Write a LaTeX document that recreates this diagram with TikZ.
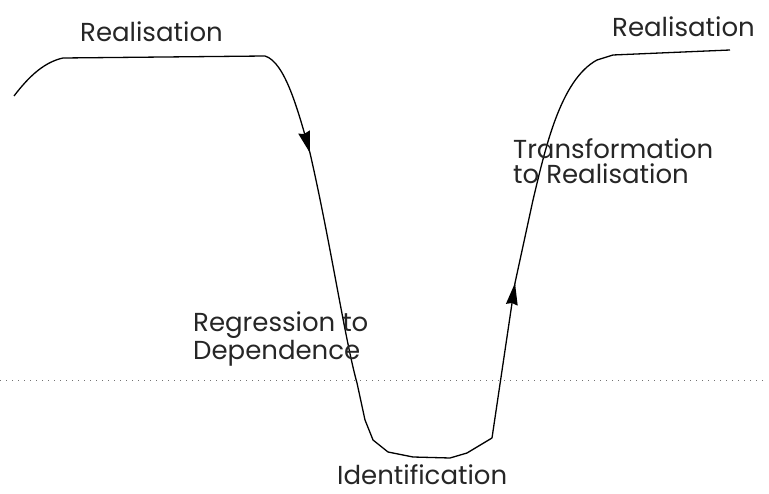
\documentclass[tikz,border=0pt]{standalone}
\usepackage{fontspec}
\setmainfont{Poppins}
\begin{document}
\begin{tikzpicture}[x=1pt,y=-1pt,
  lbl/.style={inner sep=0pt,font=\fontsize{26}{25}\selectfont,text=black!85},
  curve/.style={line width=1.3pt,line join=round},
  head/.style={fill=black,line join=miter}]
\useasboundingbox (0,0) rectangle (769,494);
% dotted baseline
\draw[black!55,line width=0.6pt,dash pattern=on 1pt off 5pt] (0,380) -- (763,380);
% coordinates
\coordinate (s) at (14,96);
\coordinate (a) at (63,58);
\coordinate (b) at (265,56);
\coordinate (c) at (310,153);
\coordinate (d) at (365,420);
\coordinate (e) at (388,452);
\coordinate (f) at (450,458);
\coordinate (g) at (492,438);
\coordinate (h) at (515,283);
\coordinate (i) at (613,55);
\coordinate (j) at (730,50);
% curve
\draw[curve] (s) .. controls (30,75) and (45,62) .. (a) -- (b)
  .. controls (285,62) and (298,110) .. (c);
\draw[curve] (c) .. controls (330,240) and (345,340) .. (357,383) -- (d) -- (373,440) -- (e) -- (413,457) -- (f) -- (467,453) -- (g);
\draw[curve] (g) -- (h);
\draw[curve] (h) -- (533,200) .. controls (545,150) and (560,80) .. (597,60) -- (i) -- (j);
% arrowheads
\fill[head] (c) -- (309.8,130.4) -- (304,134) -- (298.2,133.6) -- cycle;
\fill[head] (h) -- (517.7,305.7) -- (512,303) -- (505.9,303.9) -- cycle;
% labels
\node[lbl,anchor=base west] (r1) at (80,42) {Realisation};
\node[lbl,anchor=base west] (r2) at (612,37) {Realisation};
\node[lbl,align=left,anchor=north west] (tr) at (513,138) {Transformation\\to Realisation};
\node[lbl,align=left,anchor=north west] (rg) at (193,312) {Regression to\\Dependence};
\node[lbl,anchor=base west] (id) at (337,484) {Identification};
\end{tikzpicture}
\end{document}
